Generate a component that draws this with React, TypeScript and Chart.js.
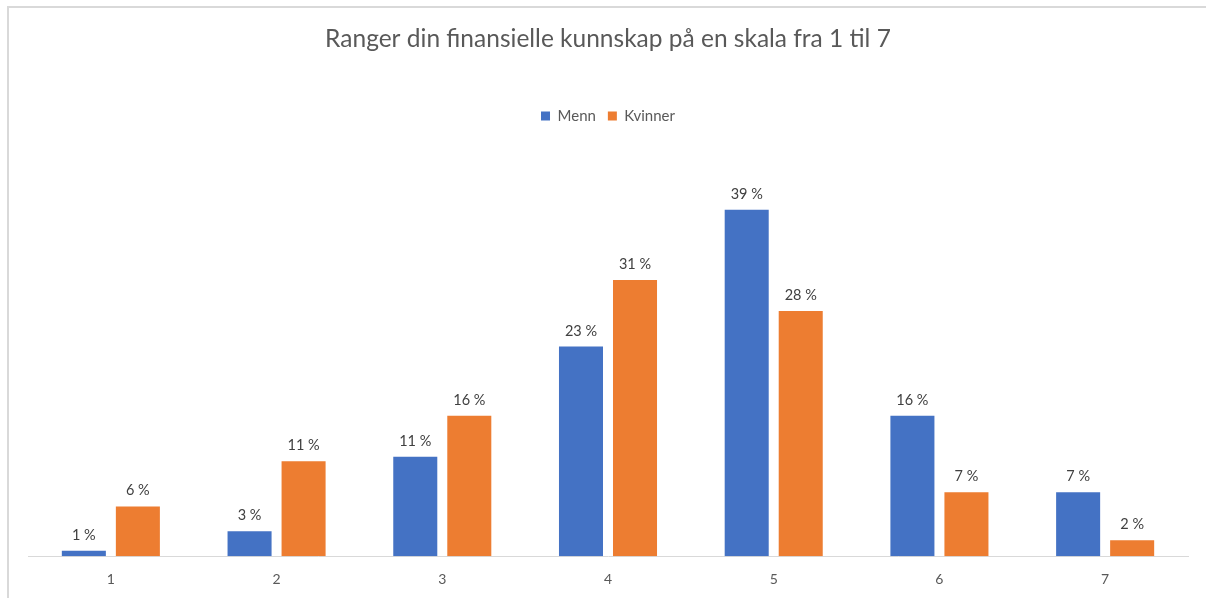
import React, { useEffect, useRef } from "react";
import { Chart, registerables } from "chart.js";

Chart.register(...registerables);

const categories = ["1", "2", "3", "4", "5", "6", "7"];
const menn = [0.6, 2.8, 11.2, 23.6, 39, 15.8, 7.2];
const kvinner = [5.6, 10.7, 15.8, 31.1, 27.6, 7.2, 1.8];
const mennLabels = ["1 %", "3 %", "11 %", "23 %", "39 %", "16 %", "7 %"];
const kvinnerLabels = ["6 %", "11 %", "16 %", "31 %", "28 %", "7 %", "2 %"];
const seriesNames = ["Menn", "Kvinner"];
const title = "Ranger din finansielle kunnskap på en skala fra 1 til 7";

const FONT = "Lato, 'Open Sans', sans-serif";

const valueLabelPlugin = {
  id: "valueLabels",
  afterDatasetsDraw(chart: any) {
    const ctx = chart.ctx;
    const labelSets = [mennLabels, kvinnerLabels];
    ctx.save();
    ctx.font = `14.5px ${FONT}`;
    ctx.fillStyle = "#404040";
    ctx.textAlign = "center";
    ctx.textBaseline = "alphabetic";
    chart.data.datasets.forEach((_: any, di: number) => {
      const meta = chart.getDatasetMeta(di);
      meta.data.forEach((bar: any, i: number) => {
        ctx.fillText(labelSets[di][i], bar.x, bar.y - 11);
      });
    });
    ctx.restore();
  },
};

export default function App() {
  const ref = useRef<HTMLCanvasElement | null>(null);
  useEffect(() => {
    if (!ref.current) return;
    const chart = new Chart(ref.current, {
      type: "bar",
      data: {
        labels: categories,
        datasets: [
          { label: seriesNames[0], data: menn, backgroundColor: "#4472C4", categoryPercentage: 0.652, barPercentage: 0.815 },
          { label: seriesNames[1], data: kvinner, backgroundColor: "#ED7D31", categoryPercentage: 0.652, barPercentage: 0.815 },
        ],
      },
      options: {
        animation: false,
        responsive: false,
        maintainAspectRatio: false,
        layout: { padding: { left: 19, right: 18, top: 0, bottom: -5 } },
        plugins: {
          title: {
            display: true,
            text: title,
            color: "#595959",
            font: { family: FONT, size: 24.5, weight: "normal" },
            padding: { top: 16, bottom: 43 },
          },
          legend: {
            display: true,
            position: "top",
            labels: {
              color: "#595959",
              font: { family: FONT, size: 15 },
              boxWidth: 9,
              boxHeight: 9,
              padding: 12,
            },
          },
          tooltip: { enabled: false },
        },
        scales: {
          x: {
            grid: { display: false, drawTicks: false },
            border: { display: true, color: "#d9d9d9", width: 1 },
            ticks: { color: "#595959", font: { family: FONT, size: 14 }, padding: 15 },
          },
          y: {
            display: false,
            min: 0,
            max: 47.6,
          },
        },
      },
      plugins: [valueLabelPlugin],
    });
    return () => chart.destroy();
  }, []);
  return (
    <div
      style={{
        position: "absolute",
        left: 7,
        top: 6,
        width: 1199,
        height: 592,
        borderLeft: "2px solid #d9d9d9",
        borderTop: "2px solid #d9d9d9",
        background: "#fff",
      }}
    >
      <canvas ref={ref} width={1197} height={590} style={{ display: "block" }} />
    </div>
  );
}
